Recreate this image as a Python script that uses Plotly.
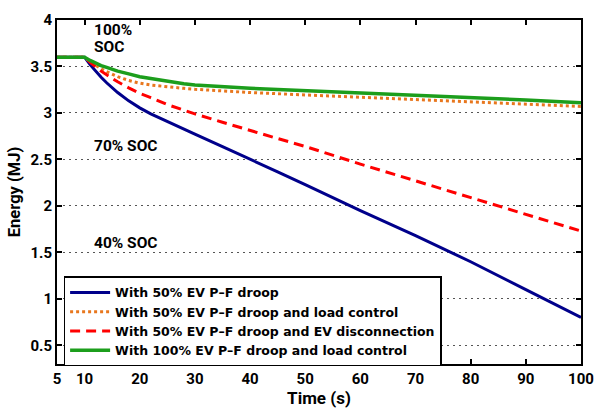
import plotly.graph_objects as go

# Time axis (s) and stored energy (MJ) for each control scenario
time_s = [5, 10, 11, 12, 13, 14, 15, 16, 18, 20, 22, 25, 28, 30, 35, 40, 45, 50,
          60, 70, 80, 90, 100]

energy_droop = [3.60, 3.60, 3.52, 3.45, 3.385, 3.325, 3.27, 3.22, 3.13, 3.055, 2.99, 2.905,
                2.825, 2.772, 2.638, 2.505, 2.367, 2.23, 1.95, 1.68, 1.40, 1.10, 0.80]
energy_droop_load = [3.60, 3.60, 3.55, 3.51, 3.475, 3.445, 3.415, 3.39, 3.35, 3.32, 3.30,
                     3.28, 3.265, 3.255, 3.235, 3.22, 3.207, 3.195, 3.17, 3.145, 3.12,
                     3.095, 3.07]
energy_droop_disc = [3.60, 3.60, 3.545, 3.495, 3.45, 3.41, 3.37, 3.335, 3.27, 3.21, 3.165,
                     3.09, 3.03, 2.99, 2.90, 2.81, 2.725, 2.64, 2.45, 2.27, 2.09, 1.91, 1.73]
energy_full_load = [3.60, 3.60, 3.565, 3.535, 3.51, 3.49, 3.47, 3.45, 3.42, 3.39, 3.37,
                    3.34, 3.315, 3.30, 3.28, 3.265, 3.252, 3.24, 3.215, 3.195, 3.17, 3.14,
                    3.11]

series_names = [
    "With 50% EV P\u2013F droop",
    "With 50% EV P\u2013F droop and load control",
    "With 50% EV P\u2013F droop and EV disconnection",
    "With 100% EV P\u2013F droop and load control",
]

x_ticks = [5, 10, 20, 30, 40, 50, 60, 70, 80, 90, 100]
y_ticks = [0.5, 1, 1.5, 2, 2.5, 3, 3.5, 4]

soc_labels = ["100%", "SOC", "70% SOC", "40% SOC"]
soc_label_x = [11.3, 11.3, 11.3, 11.3]
soc_label_y = [3.895, 3.715, 2.64, 1.60]

FONT = "Roboto, 'Liberation Sans', Arial, sans-serif"
LEGEND_FONT = "'DejaVu Sans', Verdana, sans-serif"

fig = go.Figure()
fig.add_trace(go.Scatter(x=time_s, y=energy_droop, mode="lines", name=series_names[0],
                         line=dict(color="#00008b", width=3)))
fig.add_trace(go.Scatter(x=time_s, y=energy_droop_load, mode="lines", name=series_names[1],
                         line=dict(color="#e8771e", width=3, dash="3px,3px")))
fig.add_trace(go.Scatter(x=time_s, y=energy_droop_disc, mode="lines", name=series_names[2],
                         line=dict(color="#ff0000", width=3, dash="10px,6px")))
fig.add_trace(go.Scatter(x=time_s, y=energy_full_load, mode="lines", name=series_names[3],
                         line=dict(color="#1c9e1c", width=3.5)))

for txt, xv, yv in zip(soc_labels, soc_label_x, soc_label_y):
    fig.add_annotation(x=xv, y=yv, text="<b>%s</b>" % txt, showarrow=False,
                       xanchor="left", yanchor="middle", align="left",
                       font=dict(family=FONT, size=15.5, color="black"))

axis_common = dict(showline=True, linecolor="black", linewidth=2, mirror="ticks",
                   ticks="inside", ticklen=5, tickwidth=1.5, tickcolor="black",
                   zeroline=False,
                   tickfont=dict(family=FONT, size=15, color="black"))

fig.update_xaxes(range=[5, 100], tickvals=x_ticks,
                 ticktext=["<b>%d</b>" % v for v in x_ticks],
                 showgrid=False,
                 title=dict(text="<b>Time (s)</b>", standoff=5,
                            font=dict(family=FONT, size=17, color="black")),
                 **axis_common)
fig.update_yaxes(range=[0.3, 4], tickvals=y_ticks,
                 ticktext=["<b>%g</b>" % v for v in y_ticks],
                 showgrid=True, gridcolor="#555555", gridwidth=1.2, griddash="1.5px,4.5px",
                 title=dict(text="<b>Energy (MJ)</b>", standoff=6,
                            font=dict(family=FONT, size=16.5, color="black")),
                 **axis_common)

fig.update_layout(
    width=605, height=416,
    margin=dict(l=57, r=15, t=11, b=49),
    plot_bgcolor="white", paper_bgcolor="white",
    legend=dict(x=0.0126, y=0.255, xanchor="left", yanchor="top",
                bgcolor="white", bordercolor="black", borderwidth=1.5,
                font=dict(family=LEGEND_FONT, size=12.5, color="black"),
                tracegroupgap=0, itemwidth=40),
)
fig.for_each_trace(lambda t: t.update(name="<b>%s</b>" % t.name))

fig.write_html("out.html")
